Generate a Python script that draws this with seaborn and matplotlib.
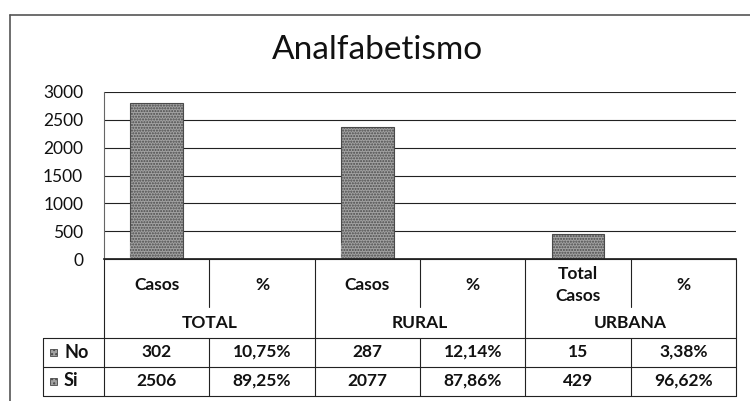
import matplotlib
matplotlib.use("Agg")
import matplotlib.pyplot as plt
import matplotlib.transforms as mtransforms
from matplotlib.lines import Line2D
from matplotlib.patches import Rectangle
import numpy as np
import pandas as pd
import seaborn as sns

groups = ["TOTAL", "RURAL", "URBANA"]
sub_labels = ["Casos", "%", "Casos", "%", "Total\nCasos", "%"]
no_values = [302, 0.1075, 287, 0.1214, 15, 0.0338]
si_values = [2506, 0.8925, 2077, 0.8786, 429, 0.9662]
no_text = ["302", "10,75%", "287", "12,14%", "15", "3,38%"]
si_text = ["2506", "89,25%", "2077", "87,86%", "429", "96,62%"]
y_ticks = [0, 500, 1000, 1500, 2000, 2500, 3000]

W, H = 750, 401
sns.set_theme(style="white")
plt.rcParams["font.family"] = ["Lato", "DejaVu Sans"]
plt.rcParams["hatch.linewidth"] = 1.0

fig = plt.figure(figsize=(W / 100, H / 100), dpi=100)
fig.patch.set_facecolor("white")

# axes box in pixels: left 104, right 736, top 92, bottom 259
ax = fig.add_axes([104 / W, 1 - 259 / H, (736 - 104) / W, (259 - 92) / H])

cols = [f"{g}|{i}" for g in groups for i in range(2)]
df = pd.DataFrame({"col": cols,
                   "no": no_values,
                   "total": np.array(no_values) + np.array(si_values)})

face, dark = "#a2a2a2", "#4a4a4a"
# stacked: Si on top of No, both series share the grey stipple
sns.barplot(data=df, x="col", y="total", order=cols, ax=ax, color=face,
            edgecolor=dark, hatch="......", linewidth=0.8, width=0.5)
sns.barplot(data=df, x="col", y="no", order=cols, ax=ax, color=face,
            edgecolor=dark, hatch="......", linewidth=0, width=0.5)

ax.set_xlim(-0.5, 5.5)
ax.set_ylim(0, 3000)
ax.set_yticks(y_ticks)
ax.set_yticklabels([str(t) for t in y_ticks], fontsize=12.5, color="#111")
ax.tick_params(axis="y", length=0, pad=15)
ax.set_xticks([])
ax.set_xlabel("")
ax.set_ylabel("")
for t in y_ticks:
    ax.axhline(t, color="#222", lw=0.8, zorder=0)
for s in ["top", "right"]:
    ax.spines[s].set_visible(False)
ax.spines["left"].set_color("#666")
ax.spines["left"].set_linestyle((0, (2, 1)))
ax.spines["left"].set_linewidth(0.8)
ax.spines["bottom"].set_color("#222")

# title
fig.text(0.503, 1 - 50 / H, "Analfabetismo", ha="center", va="center", fontsize=24, color="#111")

# data table below the axes: x in data units, y in pixels from top
tr = mtransforms.blended_transform_factory(ax.transData, fig.transFigure)


def ypx(y):
    return 1 - y / H


def hline(x0, x1, y, trans=tr):
    fig.add_artist(Line2D([x0, x1], [ypx(y), ypx(y)], transform=trans, color="#222", lw=0.8))


def vline(x, y0, y1, trans=tr):
    fig.add_artist(Line2D([x, x], [ypx(y0), ypx(y1)], transform=trans, color="#222", lw=0.8))


edges = np.arange(-0.5, 6.0, 1.0)
top, head_split, row_no, row_si, bottom = 259, 307, 338, 367, 396

# group borders
for x in edges[::2]:
    vline(x, top, bottom)
# inner Casos/% borders: header part and data rows
for x in edges[1::2]:
    vline(x, top, head_split)
    vline(x, row_no, bottom)
hline(-0.5, 5.5, top)

# legend column, in pixels
ptr = fig.transFigure
hline(43 / W, 104 / W, row_no, ptr)
hline(43 / W, 104 / W, row_si, ptr)
hline(43 / W, 104 / W, bottom, ptr)
vline(43 / W, row_no, bottom, ptr)
for y in [row_no, row_si, bottom]:
    hline(-0.5, 5.5, y)

bold = dict(ha="center", va="center", fontsize=12.5, fontweight="bold", color="#111", transform=tr)
for i, lab in enumerate(sub_labels):
    fig.text(i, ypx(285), lab, linespacing=1.4, **bold)
for j, g in enumerate(groups):
    fig.text(2 * j + 0.5, ypx(323), g, **bold)
for i in range(6):
    fig.text(i, ypx(352), no_text[i], **bold)
    fig.text(i, ypx(381), si_text[i], **bold)

# legend keys
for name, yc in [("No", 352), ("Si", 381)]:
    fig.add_artist(Rectangle((50 / W, ypx(yc + 4)), 7 / W, 7 / H, transform=ptr,
                             facecolor=face, edgecolor=dark, hatch="....", lw=0.6))
    fig.text(64 / W, ypx(yc), name, ha="left", va="center", fontsize=13,
             fontweight="bold", color="#111")

# outer frame of the scanned chart
fig.add_artist(Line2D([10 / W, 1], [ypx(15), ypx(15)], transform=ptr, color="#555", lw=1.2))
fig.add_artist(Line2D([10 / W, 10 / W], [ypx(15), 0], transform=ptr, color="#555", lw=1.2))

fig.savefig("out.png", dpi=100, facecolor="white")
